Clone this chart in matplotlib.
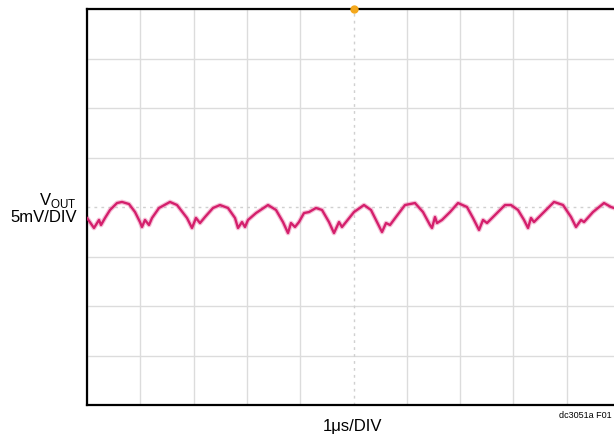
import matplotlib
matplotlib.use('Agg')
import numpy as np
import matplotlib.pyplot as plt

# Trace: time in us (0..10 = 10 divisions), VOUT ripple in mV
t_us = [0.000, 0.131, 0.225, 0.263, 0.338, 0.432, 0.563, 0.657, 0.788, 0.901,
        0.994, 1.032, 1.088, 1.163, 1.220, 1.351, 1.557, 1.689, 1.876, 1.970,
        2.045, 2.120, 2.214, 2.364, 2.495, 2.645, 2.777, 2.833, 2.908, 2.964,
        3.021, 3.171, 3.396, 3.546, 3.677, 3.771, 3.827, 3.902, 3.977, 4.071,
        4.165, 4.296, 4.409, 4.540, 4.634, 4.728, 4.784, 4.859, 5.009, 5.197,
        5.328, 5.441, 5.535, 5.610, 5.685, 5.797, 5.966, 6.154, 6.304, 6.435,
        6.473, 6.529, 6.567, 6.660, 6.811, 6.961, 7.129, 7.242, 7.355, 7.430,
        7.505, 7.655, 7.842, 7.955, 8.086, 8.199, 8.274, 8.330, 8.386, 8.480,
        8.612, 8.762, 8.931, 9.081, 9.174, 9.268, 9.325, 9.493, 9.700, 9.831,
        9.887]
vout_mv = [-1.11, -2.12, -1.31, -1.82, -1.11, -0.30, 0.40, 0.51, 0.30, -0.51,
           -1.52, -2.02, -1.31, -1.82, -1.11, -0.10, 0.51, 0.20, -1.11, -2.12,
           -1.11, -1.62, -1.01, -0.10, 0.20, -0.10, -1.11, -2.12, -1.52, -2.02,
           -1.31, -0.61, 0.20, -0.30, -1.52, -2.63, -1.62, -2.02, -1.52, -0.61,
           -0.51, -0.10, -0.30, -1.52, -2.63, -1.52, -2.02, -1.52, -0.51, 0.20,
           -0.30, -1.52, -2.53, -1.62, -1.82, -1.01, 0.20, 0.40, -0.51, -1.82,
           -2.12, -1.01, -1.62, -1.31, -0.51, 0.40, 0.00, -1.11, -2.32, -1.31,
           -1.62, -0.81, 0.20, 0.20, -0.30, -1.31, -2.12, -1.11, -1.52, -1.01,
           -0.30, 0.51, 0.20, -1.01, -2.02, -1.31, -1.52, -0.51, 0.40, 0.00,
           -0.10]

x_divs = [0, 1, 2, 3, 4, 6, 7, 8, 9, 10]
y_divs = [-20, -15, -10, -5, 5, 10, 15, 20]

font = ['Liberation Sans', 'DejaVu Sans']

fig = plt.figure(figsize=(6.14, 4.37), dpi=100)
# axes runs a bit past the right edge, as in the original scan
ax = fig.add_axes([87 / 614, 32 / 437, 533 / 614, 396 / 437])
ax.set_xlim(0, 10)
ax.set_ylim(-20, 20)

for x in x_divs:
    ax.axvline(x, color='#dcdcdc', lw=1.0, zorder=1)
for y in y_divs:
    ax.axhline(y, color='#dcdcdc', lw=1.0, zorder=1)
ax.axvline(5, color='#d0d0d0', lw=1.0, ls=(0, (2, 3)), zorder=1)
ax.axhline(0, color='#d0d0d0', lw=1.0, ls=(0, (2, 3)), zorder=1)

ax.plot(t_us, vout_mv, color='#e8609a', lw=3.4, alpha=0.4, zorder=2)
ax.plot(t_us, vout_mv, color='#d41f6c', lw=1.7, zorder=3)

# trigger marker at top
ax.plot([5], [20], 'o', color='#f4a81c', ms=5, clip_on=False, zorder=4)

ax.set_xticks([])
ax.set_yticks([])
for side in ['left', 'top', 'bottom']:
    ax.spines[side].set_linewidth(1.6)
ax.spines['right'].set_visible(False)

fig.text(77 / 614, 1 - 200 / 437, r'V$_{\mathregular{OUT}}$', ha='right', va='center',
         fontsize=12, family=font)
fig.text(77 / 614, 1 - 217 / 437, '5mV/DIV', ha='right', va='center',
         fontsize=12, family=font)
fig.text(353 / 614, 1 - 426 / 437, '1μs/DIV', ha='center', va='center',
         fontsize=12, family=font)
fig.text(612 / 614, 1 - 415 / 437, 'dc3051a F01', ha='right', va='center',
         fontsize=6.5, family=font)

fig.savefig('out.png', dpi=100)
